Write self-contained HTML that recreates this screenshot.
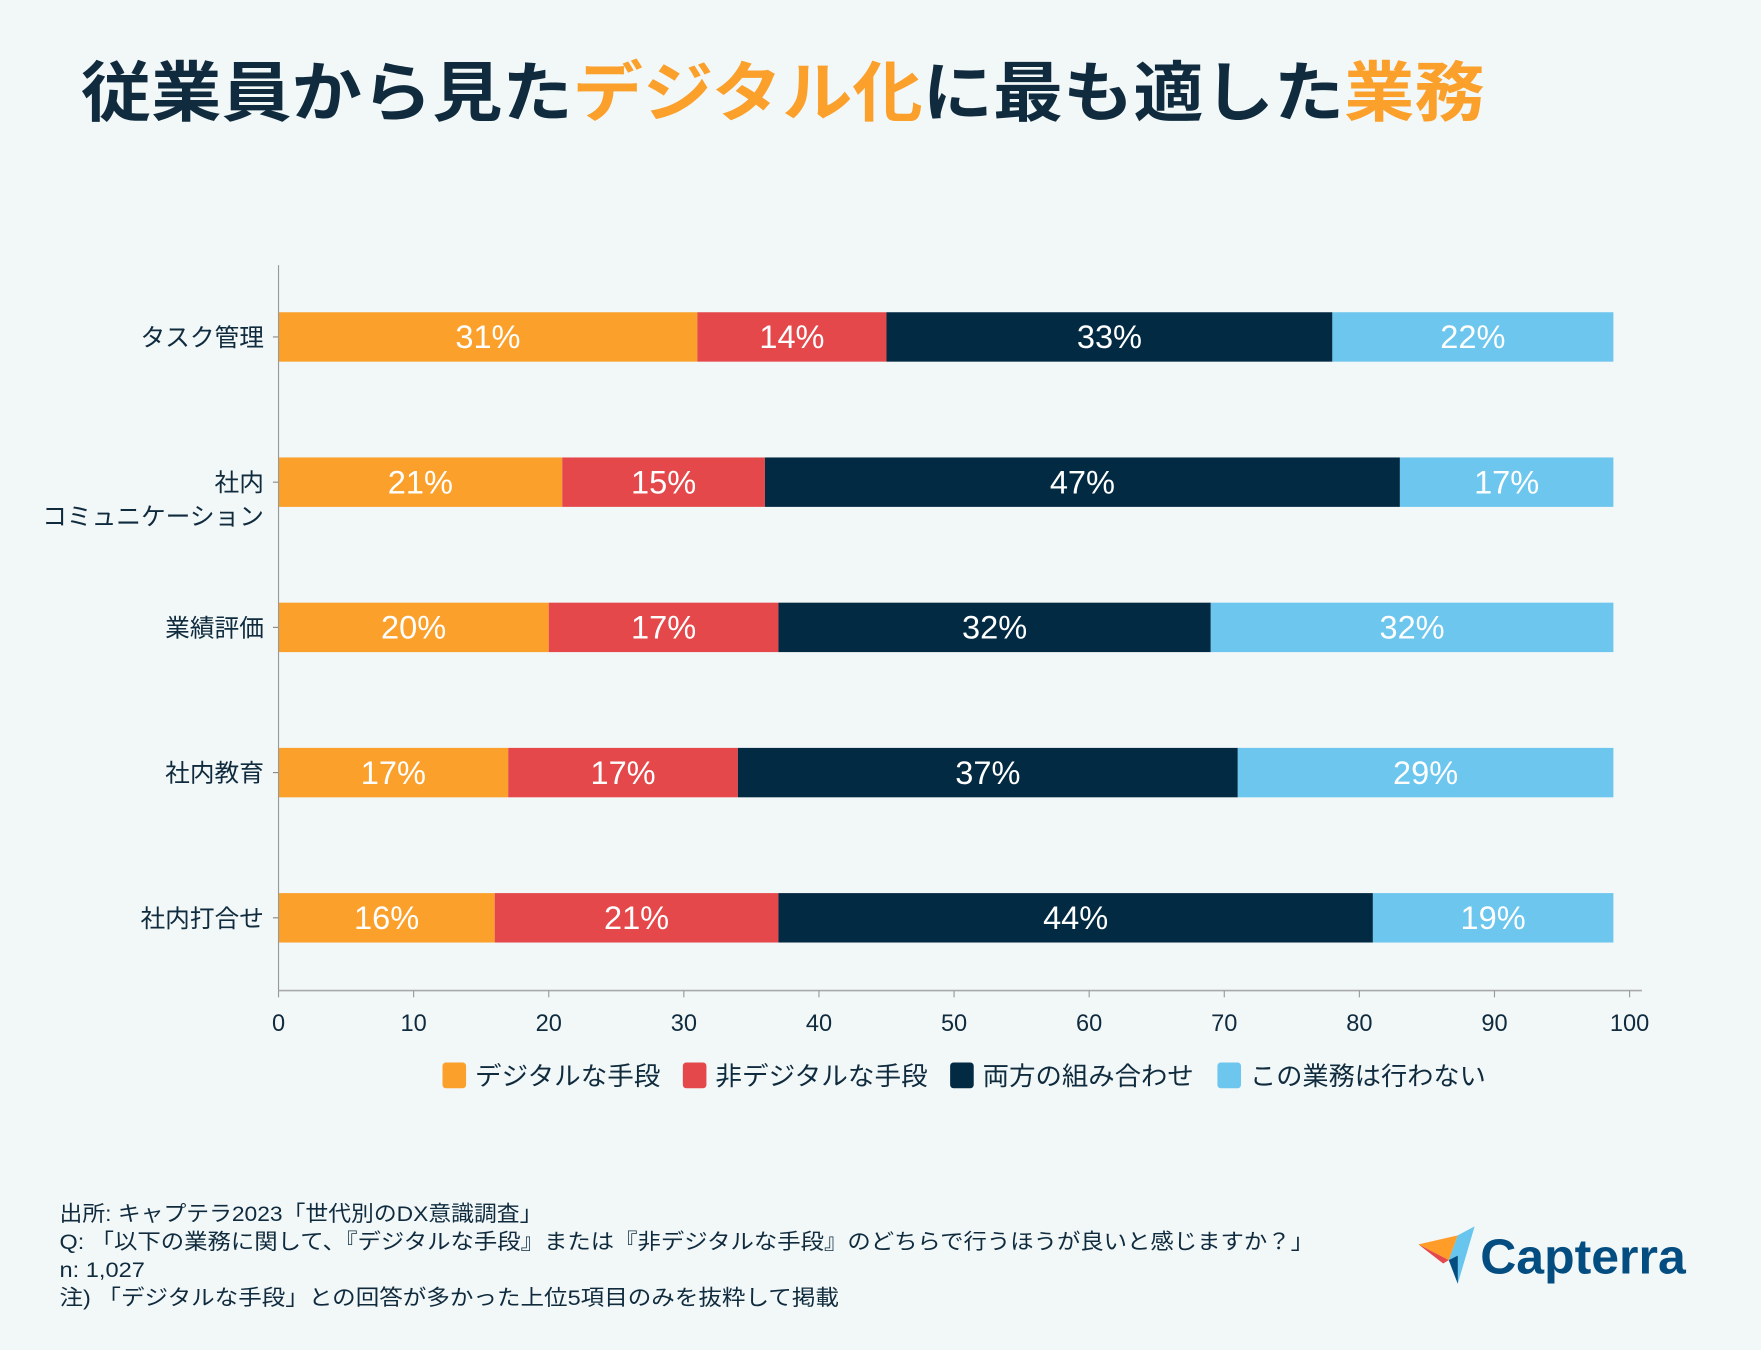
<!DOCTYPE html>
<html><head><meta charset="utf-8"><style>
html,body{margin:0;padding:0;background:#f2f7f8;}
svg{display:block;font-family:"Liberation Sans","Noto Sans CJK JP",sans-serif;}
</style></head><body>
<svg id="chart" width="1761" height="1350" viewBox="0 0 1568 1202" xmlns="http://www.w3.org/2000/svg">
<rect width="1568" height="1202" fill="#f2f7f8"/>
<text x="72" y="103" font-size="58" font-weight="bold" fill="#0f2b3d" textLength="1250" lengthAdjust="spacingAndGlyphs">従業員から見た<tspan fill="#fba02b">デジタル化</tspan>に最も適した<tspan fill="#fba02b">業務</tspan></text>
<g id="plot"></g>
<g font-size="23" fill="#0f2b3d">
<g><rect x="394" y="946" width="21" height="23" rx="3" fill="#fba02b"/><text x="423" y="966" textLength="165" lengthAdjust="spacingAndGlyphs">デジタルな手段</text></g>
<g><rect x="608" y="946" width="21" height="23" rx="3" fill="#e5484a"/><text x="637" y="966" textLength="189" lengthAdjust="spacingAndGlyphs">非デジタルな手段</text></g>
<g><rect x="846" y="946" width="21" height="23" rx="3" fill="#032a43"/><text x="875" y="966" textLength="188" lengthAdjust="spacingAndGlyphs">両方の組み合わせ</text></g>
<g><rect x="1084" y="946" width="21" height="23" rx="3" fill="#6cc6ee"/><text x="1113" y="966" textLength="210" lengthAdjust="spacingAndGlyphs">この業務は行わない</text></g>
</g>
<g font-size="19" fill="#0f2b3d">
<text x="53" y="1087" textLength="430" lengthAdjust="spacingAndGlyphs">出所: キャプテラ2023「世代別のDX意識調査」</text>
<text x="53" y="1112" textLength="1117" lengthAdjust="spacingAndGlyphs">Q: 「以下の業務に関して、『デジタルな手段』または『非デジタルな手段』のどちらで行うほうが良いと感じますか？」</text>
<text x="53" y="1137" textLength="76" lengthAdjust="spacingAndGlyphs">n: 1,027</text>
<text x="53" y="1162" textLength="694" lengthAdjust="spacingAndGlyphs">注) 「デジタルな手段」との回答が多かった上位5項目のみを抜粋して掲載</text>
</g>
<g>
<polygon points="1263,1108 1298,1100 1290,1122" fill="#ff9d28"/>
<polygon points="1263,1108 1290,1122 1285,1125" fill="#e5484a"/>
<polygon points="1313,1092 1298,1100 1290,1122 1298,1143" fill="#68c5ed"/>
<polygon points="1290,1122 1298,1143 1298,1118" fill="#044d80"/>
<text x="1318" y="1134" font-size="44" font-weight="bold" fill="#044d80" textLength="183" lengthAdjust="spacingAndGlyphs">Capterra</text>
</g>
</svg>
<script>
const categories=["タスク管理","社内コミュニケーション","業績評価","社内教育","社内打合せ"];
const digital=[31,21,20,17,16];
const nonDigital=[14,15,17,17,21];
const both=[33,47,32,37,44];
const none=[22,17,32,29,19];
const xTicks=[0,10,20,30,40,50,60,70,80,90,100];
const seriesNames=["digital","non-digital","both","none"];
const NS="http://www.w3.org/2000/svg";
const g=document.getElementById('plot');
const x0=248,x1=1451,yTop=236,yBot=882;
const barCap=98.8;
const xs=v=>x0+(x1-x0)*v/100;
const rowY=i=>300+i*129.3;
const colors=["#fba02b","#e5484a","#032a43","#6cc6ee"];
function mk(tag,attrs){const e=document.createElementNS(NS,tag);for(const k in attrs)e.setAttribute(k,attrs[k]);g.appendChild(e);return e;}
const series=[digital,nonDigital,both,none];
categories.forEach((c,i)=>{
  let acc=0;const cy=rowY(i);
  series.forEach((s,j)=>{
    const v=s[i];
    const a=Math.min(acc,barCap), b=Math.min(acc+v,barCap);
    const r=mk('rect',{x:xs(a),y:cy-22,width:Math.max(0,xs(b)-xs(a)),height:44,fill:colors[j]});
    
    
    const t=mk('text',{x:(xs(a)+xs(b))/2,y:cy+10,'font-size':29,fill:'#fff','text-anchor':'middle'});
    t.textContent=v+'%';
    
    
    acc+=v;
  });
  mk('line',{x1:x0-5,x2:x0,y1:cy,y2:cy,stroke:'#888','stroke-width':1});
  const lab=mk('text',{x:235,'font-size':22,fill:'#0f2b3d','text-anchor':'end'});
  
  
  lab.setAttribute('y',cy+8);
  if(c==="社内コミュニケーション"){
    const a=document.createElementNS(NS,'tspan');a.textContent="社内";lab.appendChild(a);
    const b=document.createElementNS(NS,'tspan');b.setAttribute('x',235);b.setAttribute('dy',30);b.textContent="コミュニケーション";lab.appendChild(b);
  } else {lab.textContent=c;}
});
const ya=mk('line',{x1:x0,x2:x0,y1:yTop,y2:yBot,stroke:'#999','stroke-width':1});


const xa=mk('line',{x1:x0,x2:1462,y1:yBot,y2:yBot,stroke:'#aaa','stroke-width':1.5});


xTicks.forEach(t=>{
  mk('line',{x1:xs(t),x2:xs(t),y1:yBot,y2:yBot+6,stroke:'#999','stroke-width':1});
  const tl=mk('text',{x:xs(t),y:918,'font-size':21,fill:'#0f2b3d','text-anchor':'middle'});
  tl.textContent=t;
  
  
});
</script>
</body></html>
